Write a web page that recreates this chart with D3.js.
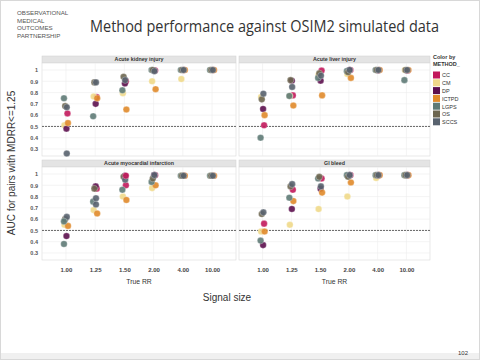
<!DOCTYPE html>
<html><head><meta charset="utf-8">
<script src="https://cdn.jsdelivr.net/npm/d3@7"></script>
<style>body{margin:0;background:#fff}svg{display:block}</style>
</head><body>
<svg id="c" width="480" height="360"></svg>
<script>
const methods = ["CC","CM","DP","ICTPD","LGPS","OS","SCCS"];
const methodColors = ["#c2185b","#f0d98a","#5c0f4e","#e08a2a","#5e7a76","#6d6650","#58626e"];
const rrLabels = ["1.00","1.25","1.50","2.00","4.00","10.00"];
const yTicks = [1,0.9,0.8,0.7,0.6,0.5,0.4,0.3];
const panelTitles = ["Acute kidney injury","Acute liver injury","Acute myocardial infarction","GI bleed"];

const akiData = [
 ["CC","1.00",0.615],["CM","1.00",0.51],["DP","1.00",0.48],["ICTPD","1.00",0.53],["LGPS","1.00",0.75],["OS","1.00",0.68],["SCCS","1.00",0.67],["SCCS","1.00",0.26],
 ["CC","1.25",0.76],["CM","1.25",0.765],["DP","1.25",0.70],["ICTPD","1.25",0.75],["LGPS","1.25",0.59],["OS","1.25",0.89],["SCCS","1.25",0.89],
 ["CC","1.50",0.90],["CM","1.50",0.795],["DP","1.50",0.88],["ICTPD","1.50",0.65],["LGPS","1.50",0.82],["OS","1.50",0.94],["SCCS","1.50",0.91],
 ["CC","2.00",0.995],["CM","2.00",0.90],["DP","2.00",0.995],["ICTPD","2.00",0.83],["LGPS","2.00",1.0],["OS","2.00",1.0],["SCCS","2.00",0.99],
 ["CC","4.00",1.0],["CM","4.00",0.92],["DP","4.00",1.0],["ICTPD","4.00",1.0],["LGPS","4.00",1.0],["OS","4.00",1.0],["SCCS","4.00",1.0],
 ["CC","10.00",1.0],["CM","10.00",1.0],["DP","10.00",1.0],["ICTPD","10.00",1.0],["LGPS","10.00",1.0],["OS","10.00",1.0],["SCCS","10.00",1.0]
];
const aliData = [
 ["CC","1.00",0.51],["CM","1.00",0.76],["DP","1.00",0.655],["ICTPD","1.00",0.60],["LGPS","1.00",0.40],["OS","1.00",0.74],["SCCS","1.00",0.79],
 ["CC","1.25",0.775],["CM","1.25",0.77],["DP","1.25",0.905],["ICTPD","1.25",0.685],["LGPS","1.25",0.77],["OS","1.25",0.91],["SCCS","1.25",0.85],
 ["CC","1.50",0.995],["CM","1.50",0.96],["DP","1.50",0.905],["ICTPD","1.50",0.775],["LGPS","1.50",0.93],["OS","1.50",0.97],["SCCS","1.50",0.95],
 ["CC","2.00",1.0],["CM","2.00",0.965],["DP","2.00",1.0],["ICTPD","2.00",0.93],["LGPS","2.00",0.99],["OS","2.00",0.98],["SCCS","2.00",1.0],
 ["CC","4.00",1.0],["CM","4.00",1.0],["DP","4.00",0.995],["ICTPD","4.00",1.0],["LGPS","4.00",1.0],["OS","4.00",1.0],["SCCS","4.00",1.0],
 ["CC","10.00",0.995],["CM","10.00",1.0],["DP","10.00",0.995],["ICTPD","10.00",1.0],["LGPS","10.00",0.91],["OS","10.00",1.0],["SCCS","10.00",1.0]
];
const amiData = [
 ["CM","1.00",0.55],["DP","1.00",0.45],["ICTPD","1.00",0.54],["LGPS","1.00",0.38],["OS","1.00",0.60],["SCCS","1.00",0.62],["LGPS","1.00",0.58],
 ["CC","1.25",0.87],["CM","1.25",0.68],["DP","1.25",0.89],["ICTPD","1.25",0.65],["LGPS","1.25",0.755],["OS","1.25",0.87],["SCCS","1.25",0.785],["SCCS","1.25",0.73],
 ["CC","1.50",0.90],["CM","1.50",0.80],["DP","1.50",0.985],["ICTPD","1.50",0.77],["LGPS","1.50",0.86],["OS","1.50",0.975],["SCCS","1.50",0.95],["CC","1.50",0.985],
 ["CC","2.00",0.99],["CM","2.00",0.875],["DP","2.00",0.99],["ICTPD","2.00",0.90],["LGPS","2.00",0.93],["OS","2.00",0.96],["SCCS","2.00",0.99],
 ["CC","4.00",0.985],["CM","4.00",0.985],["DP","4.00",0.985],["ICTPD","4.00",0.985],["LGPS","4.00",0.985],["OS","4.00",0.985],["SCCS","4.00",0.985],
 ["CC","10.00",0.985],["CM","10.00",0.985],["DP","10.00",0.985],["ICTPD","10.00",0.985],["LGPS","10.00",0.985],["OS","10.00",0.985],["SCCS","10.00",0.985]
];
const giData = [
 ["CC","1.00",0.56],["CM","1.00",0.49],["DP","1.00",0.37],["ICTPD","1.00",0.49],["LGPS","1.00",0.41],["OS","1.00",0.645],["SCCS","1.00",0.66],
 ["CC","1.25",0.86],["CM","1.25",0.55],["DP","1.25",0.69],["ICTPD","1.25",0.76],["LGPS","1.25",0.79],["OS","1.25",0.89],["SCCS","1.25",0.91],
 ["CC","1.50",0.96],["CM","1.50",0.69],["DP","1.50",0.87],["ICTPD","1.50",0.835],["LGPS","1.50",0.96],["OS","1.50",0.975],["SCCS","1.50",0.89],
 ["CC","2.00",0.99],["CM","2.00",0.80],["DP","2.00",0.99],["ICTPD","2.00",0.925],["LGPS","2.00",0.99],["OS","2.00",0.975],["SCCS","2.00",0.99],
 ["CC","4.00",0.99],["CM","4.00",0.965],["DP","4.00",0.99],["ICTPD","4.00",0.99],["LGPS","4.00",0.99],["OS","4.00",0.99],["SCCS","4.00",0.99],
 ["CC","10.00",0.99],["CM","10.00",0.99],["DP","10.00",0.99],["ICTPD","10.00",0.99],["LGPS","10.00",0.99],["OS","10.00",0.99],["SCCS","10.00",0.99]
];
const panelData = [akiData, aliData, amiData, giData];

const svg = d3.select("#c");
const FONT = "'Liberation Sans', Arial, sans-serif";

// slide frame
svg.append("rect").attr("x",0.5).attr("y",0.5).attr("width",479).attr("height",359)
  .attr("fill","#fff").attr("stroke","#d8d8d8");
svg.append("rect").attr("x",1).attr("y",353).attr("width",478).attr("height",6).attr("fill","#f0f0f0");

// logo
const logo = ["OBSERVATIONAL","MEDICAL","OUTCOMES","PARTNERSHIP"];
svg.append("g").selectAll("text").data(logo).join("text")
  .attr("x",17).attr("y",(d,i)=>15+i*7.5)
  .attr("font-family",FONT).attr("font-size",6.2).attr("fill","#555")
  .text(d=>d);

// title
svg.append("text").attr("x",90).attr("y",32)
  .attr("font-family","'Open Sans', 'DejaVu Sans', sans-serif").attr("font-size",15.5).attr("fill","#333")
  .attr("textLength",349).attr("lengthAdjust","spacingAndGlyphs")
  .text("Method performance against OSIM2 simulated data");

const color = d3.scaleOrdinal().domain(methods).range(methodColors);

const cols = [{x0:42,x1:236},{x0:239,x1:430}];
const rows = [{y0:63,y1:156},{y0:167,y1:260}];
const stripH = 7;
const yDomain = [0.238, 1.062];

panelTitles.forEach((title, p) => {
  const c = cols[p%2], r = rows[Math.floor(p/2)];
  const x = d3.scalePoint().domain(rrLabels).range([c.x0,c.x1]).padding(0.82);
  const y = d3.scaleLinear().domain(yDomain).range([r.y1,r.y0]);
  const g = svg.append("g");
  // strip
  g.append("rect").attr("x",c.x0).attr("y",r.y0-stripH).attr("width",c.x1-c.x0).attr("height",stripH)
    .attr("fill","#e4e4e4").attr("stroke","#d0d0d0").attr("stroke-width",0.5);
  g.append("text").attr("x",(c.x0+c.x1)/2).attr("y",r.y0-1.6).attr("text-anchor","middle")
    .attr("font-family",FONT).attr("font-size",5.3).attr("font-weight","bold").attr("fill","#333")
    .text(title);
  // panel
  g.append("rect").attr("x",c.x0).attr("y",r.y0).attr("width",c.x1-c.x0).attr("height",r.y1-r.y0)
    .attr("fill","#fff").attr("stroke","#dadada").attr("stroke-width",0.6);
  g.append("g").selectAll("line").data(yTicks).join("line")
    .attr("x1",c.x0).attr("x2",c.x1).attr("y1",d=>y(d)).attr("y2",d=>y(d))
    .attr("stroke","#ececec").attr("stroke-width",0.6);
  g.append("g").selectAll("line").data(rrLabels).join("line")
    .attr("x1",d=>x(d)).attr("x2",d=>x(d)).attr("y1",r.y0).attr("y2",r.y1)
    .attr("stroke","#ececec").attr("stroke-width",0.6);
  // reference line
  g.append("line").attr("x1",c.x0).attr("x2",c.x1).attr("y1",y(0.5)).attr("y2",y(0.5))
    .attr("stroke","#555").attr("stroke-width",0.9).attr("stroke-dasharray","2,1");
  // y axis
  if (p%2===0) {
    const ya = d3.axisLeft(y).tickValues(yTicks).tickSize(0).tickPadding(4)
      .tickFormat(d=> d===1 ? "1" : d3.format(".1f")(d));
    const ag = g.append("g").attr("transform",`translate(${c.x0},0)`).call(ya);
    ag.select(".domain").remove();
    ag.selectAll("text").attr("font-family",FONT).attr("font-size",5.5).attr("fill","#555").attr("font-weight","bold");
  }
  // x axis
  if (p>=2) {
    const xa = d3.axisBottom(x).tickSize(0).tickPadding(8);
    const ag = g.append("g").attr("transform",`translate(0,${r.y1})`).call(xa);
    ag.select(".domain").remove();
    ag.selectAll("text").attr("font-family",FONT).attr("font-size",6).attr("fill","#444").attr("font-weight","bold");
    g.append("text").attr("x",(c.x0+c.x1)/2).attr("y",284).attr("text-anchor","middle")
      .attr("font-family",FONT).attr("font-size",6.8).attr("fill","#333").text("True RR");
  }
  // points
  const jit = [1.5,-1.5,0.5,2,-2,-0.8,0.8];
  g.append("g").selectAll("circle").data(panelData[p]).join("circle")
    .attr("cx",d=>x(d[1]) + jit[methods.indexOf(d[0])])
    .attr("cy",d=>y(d[2]))
    .attr("r",3.3)
    .attr("fill",d=>color(d[0])).attr("fill-opacity",0.9)
    .attr("stroke","#fff").attr("stroke-width",0.4).attr("stroke-opacity",0.7);
});

// axis titles
svg.append("text").attr("x",227).attr("y",301).attr("text-anchor","middle")
  .attr("font-family",FONT).attr("font-size",10).attr("fill","#333").text("Signal size");
svg.append("text").attr("transform","translate(15,163) rotate(-90)").attr("text-anchor","middle")
  .attr("font-family",FONT).attr("font-size",10).attr("fill","#333").text("AUC for pairs with MDRR<=1.25");

// legend
const lg = svg.append("g");
lg.append("text").attr("x",433).attr("y",59).attr("font-family",FONT).attr("font-size",5.5).attr("font-weight","bold").attr("fill","#333").text("Color by");
lg.append("text").attr("x",433).attr("y",66).attr("font-family",FONT).attr("font-size",5.5).attr("font-weight","bold").attr("fill","#333").text("METHOD_");
lg.selectAll("rect.k").data(methods).join("rect").attr("class","k")
  .attr("x",433).attr("y",(d,i)=>71.5+i*7.8).attr("width",7).attr("height",7)
  .attr("fill",d=>color(d));
lg.selectAll("text.k").data(methods).join("text").attr("class","k")
  .attr("x",442).attr("y",(d,i)=>77.3+i*7.8)
  .attr("font-family",FONT).attr("font-size",5.5).attr("fill","#333").text(d=>d);

// slide number
svg.append("text").attr("x",468).attr("y",355).attr("text-anchor","end")
  .attr("font-family",FONT).attr("font-size",6).attr("fill","#333").text("102");
</script>
</body></html>
